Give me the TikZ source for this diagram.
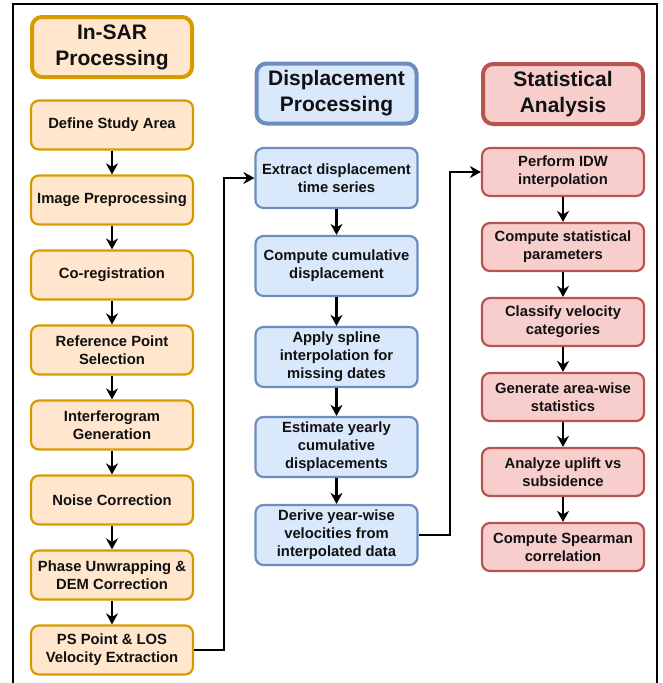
\documentclass[tikz,border=0pt]{standalone}
\usepackage{fontspec}
\setmainfont{Liberation Sans}
\usetikzlibrary{arrows.meta}
\definecolor{ofill}{HTML}{FFE6CC}
\definecolor{odraw}{HTML}{D79B00}
\definecolor{bfill}{HTML}{DAE8FC}
\definecolor{bdraw}{HTML}{6C8EBF}
\definecolor{rfill}{HTML}{F8CECC}
\definecolor{rdraw}{HTML}{B85450}
\definecolor{txt}{HTML}{111111}
\begin{document}
\begin{tikzpicture}[x=1pt,y=-1pt,
  box/.style={rectangle, rounded corners=8pt, line width=2.2pt, align=center,
    minimum width=162pt, inner sep=0pt, text=txt,
    font=\fontsize{14.8pt}{18pt}\selectfont\bfseries},
  ttl/.style={rectangle, rounded corners=10pt, line width=4pt, align=center,
    minimum width=160pt, minimum height=60pt, inner sep=0pt, text=txt,
    font=\fontsize{21pt}{26pt}\selectfont\bfseries},
  ob/.style={box, fill=ofill, draw=odraw, minimum height=49pt},
  bb/.style={box, fill=bfill, draw=bdraw, minimum height=60pt},
  rb/.style={box, fill=rfill, draw=rdraw, minimum height=48pt},
  ot/.style={ttl, fill=ofill, draw=odraw},
  bt/.style={ttl, fill=bfill, draw=bdraw},
  rt/.style={ttl, fill=rfill, draw=rdraw},
  arr/.style={line width=2.5pt, -{Stealth[length=11pt,width=12pt,inset=3.5pt]}}
]
\useasboundingbox (0,0) rectangle (662,683);
\fill[white] (0,0) rectangle (662,683);
\draw[line width=2pt] (13,720) -- (13,4) -- (657,4) -- (657,720);

% In-SAR column
\node[ot] (t1) at (112,47) {In-SAR\\Processing};
\node[ob] (o1) at (112,125) {Define Study Area};
\node[ob] (o2) at (112,200) {Image Preprocessing};
\node[ob] (o3) at (112,275) {Co-registration};
\node[ob] (o4) at (112,350) {Reference Point\\Selection};
\node[ob] (o5) at (112,425) {Interferogram\\Generation};
\node[ob] (o6) at (112,500) {Noise Correction};
\node[ob] (o7) at (112,575) {Phase Unwrapping \&\\DEM Correction};
\node[ob] (o8) at (112,650) {PS Point \& LOS\\Velocity Extraction};

% Displacement column
\node[bt] (t2) at (336.5,93.5) {Displacement\\Processing};
\node[bb] (b1) at (336.5,178) {Extract displacement\\time series};
\node[bb] (b2) at (336.5,266) {Compute cumulative\\displacement};
\node[bb] (b3) at (336.5,357) {Apply spline\\interpolation for\\missing dates};
\node[bb] (b4) at (336.5,447) {Estimate yearly\\cumulative\\displacements};
\node[bb] (b5) at (336.5,535) {Derive year-wise\\velocities from\\interpolated data};

% Statistical column
\node[rt] (t3) at (563,94) {Statistical\\Analysis};
\node[rb] (r1) at (563,172) {Perform IDW\\interpolation};
\node[rb] (r2) at (563,247) {Compute statistical\\parameters};
\node[rb] (r3) at (563,322) {Classify velocity\\categories};
\node[rb] (r4) at (563,397) {Generate area-wise\\statistics};
\node[rb] (r5) at (563,472) {Analyze uplift vs\\subsidence};
\node[rb] (r6) at (563,547) {Compute Spearman\\correlation};

\foreach \a/\b in {o1/o2,o2/o3,o3/o4,o4/o5,o5/o6,o6/o7,o7/o8,
                   b1/b2,b2/b3,b3/b4,b4/b5,
                   r1/r2,r2/r3,r3/r4,r4/r5,r5/r6}
  \draw[arr] (\a) -- (\b);

\draw[arr] (o8.east) -- (224,650) -- (224,178) -- (b1.west);
\draw[arr] (b5.east) -- (450,535) -- (450,172) -- (r1.west);
\end{tikzpicture}
\end{document}
